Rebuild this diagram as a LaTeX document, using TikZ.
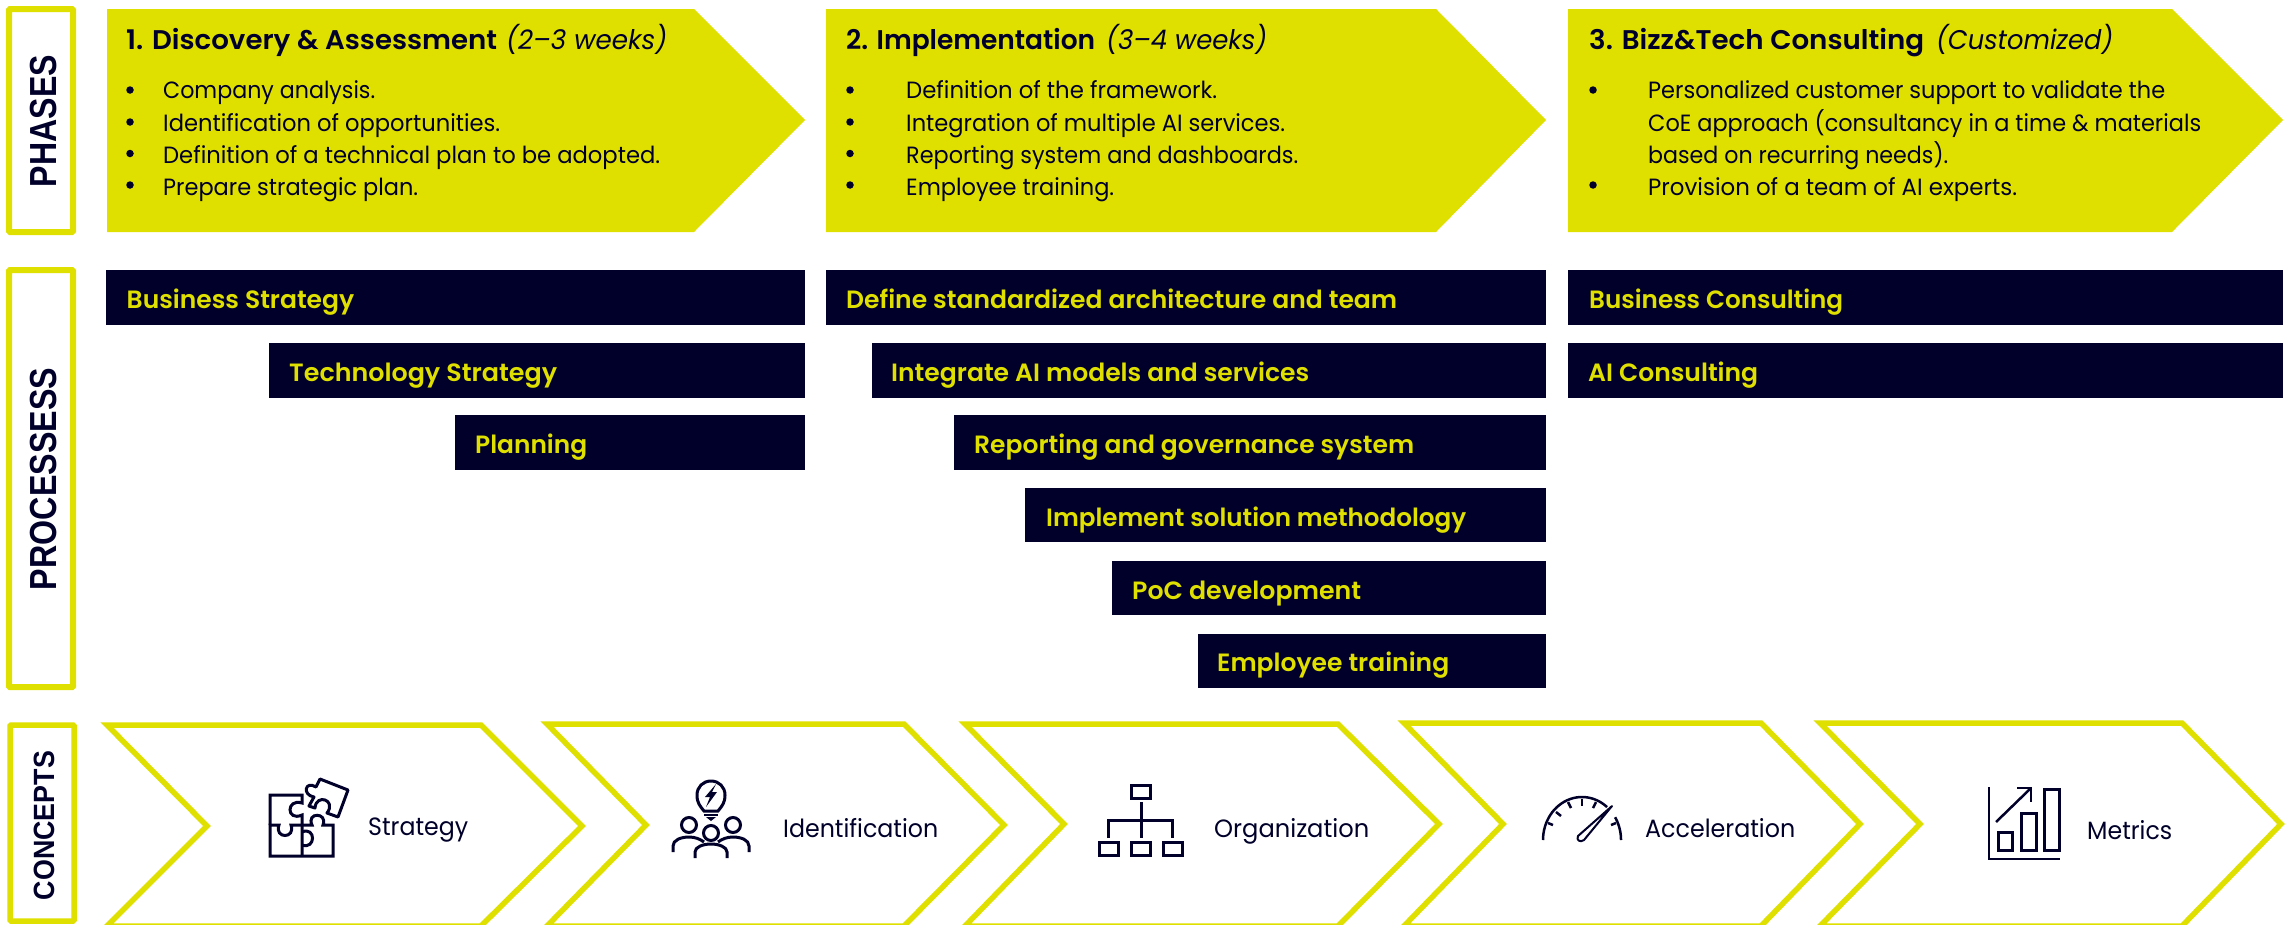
\documentclass[tikz,border=0pt]{standalone}
\usepackage{fontspec}
\usepackage{graphicx}
\setmainfont{Poppins}[BoldFont={Poppins SemiBold}]
\newfontfamily\labfont{Liberation Sans}
\definecolor{lime}{HTML}{DFDF00}
\definecolor{ink}{HTML}{00002A}
\newsavebox{\fitbox}
\newcommand{\fitw}[2]{\sbox{\fitbox}{#2}\pgfmathsetmacro{\fitr}{#1/\wd\fitbox*1pt}\scalebox{\fitr}[1]{\usebox{\fitbox}}}
\tikzset{
  x=1pt,y=-1pt,
  txt/.style={anchor=base west,inner sep=0pt,text=ink},
  phasetitle/.style={txt,font=\fontsize{27}{32}\selectfont\bfseries},
  phaseweeks/.style={txt,font=\fontsize{27}{32}\selectfont\itshape},
  bodytxt/.style={txt,font=\fontsize{23.5}{32}\selectfont},
  bullet/.style={circle,fill=ink,inner sep=0pt,minimum size=7.5pt},
  bartxt/.style={txt,text=lime,font=\fontsize{25}{30}\selectfont\bfseries},
  bar/.style={fill=ink},
  arrowfill/.style={fill=lime},
  chev/.style={draw=lime,line width=5.5pt,fill=white,miter limit=10},
  labbox/.style={draw=lime,line width=6pt,rounded corners=1pt,fill=white},
  labtxt/.style={inner sep=0pt,rotate=90,text=ink},
  conctxt/.style={txt,font=\fontsize{25}{30}\selectfont},
  icon/.style={draw=ink,line width=3pt,line join=miter},
}
\begin{document}
\begin{tikzpicture}
\clip (0,0) rectangle (2290,924);
% section labels
\draw[labbox] (9,9) rectangle (73,232);
\draw[labbox] (9,270) rectangle (73,687);
\draw[labbox,line width=5.5pt] (10,725) rectangle (74,921);
\node[labtxt] (lphases) at (44,121) {\labfont\bfseries\fontsize{37.7}{40}\selectfont\fitw{132}{PHASES}};
\node[labtxt] (lproc) at (44,479) {\labfont\bfseries\fontsize{37.7}{40}\selectfont\fitw{222}{PROCESSESS}};
\node[labtxt] (lconc) at (44,825.5) {\labfont\bfseries\fontsize{29.3}{32}\selectfont\fitw{149}{CONCEPTS}};
% phase arrows
\fill[arrowfill] (107,9) -- (694,9) -- (805,120) -- (694,232) -- (107,232) -- cycle;
\fill[arrowfill] (826,9) -- (1436,9) -- (1546,120) -- (1436,232) -- (826,232) -- cycle;
\fill[arrowfill] (1568,9) -- (2172,9) -- (2283,120) -- (2172,232) -- (1568,232) -- cycle;
\node[phasetitle] (t1) at (126,49) {\fitw{371}{1. Discovery \& Assessment}};
\node[phaseweeks] (w1) at (506,49) {\fitw{161}{(2–3 weeks)}};
\node[phasetitle] (t2) at (846,49) {\fitw{249}{2. Implementation}};
\node[phaseweeks] (w2) at (1106,49) {\fitw{161}{(3–4 weeks)}};
\node[phasetitle] (t3) at (1589,49) {\fitw{335}{3. Bizz\&Tech Consulting}};
\node[phaseweeks] (w3) at (1936,49) {\fitw{177}{(Customized)}};
% bullets col 1
\foreach \yy/\nm in {90/a,122/b,153.5/c,185/d} \node[bullet] (ba\nm) at (130,\yy) {};
\node[bodytxt] (p1a) at (163,98.7) {\fitw{212}{Company analysis.}};
\node[bodytxt] (p1b) at (163,131) {\fitw{337}{Identification of opportunities.}};
\node[bodytxt] (p1c) at (163,163) {\fitw{497}{Definition of a technical plan to be adopted.}};
\node[bodytxt] (p1d) at (163,195) {\fitw{255}{Prepare strategic plan.}};
% bullets col 2
\foreach \yy/\nm in {90/a,122/b,153.5/c,185/d} \node[bullet] (bb\nm) at (850,\yy) {};
\node[bodytxt] (p2a) at (906,98.7) {\fitw{311}{Definition of the framework.}};
\node[bodytxt] (p2b) at (906,131) {\fitw{379}{Integration of multiple AI services.}};
\node[bodytxt] (p2c) at (906,163) {\fitw{392}{Reporting system and dashboards.}};
\node[bodytxt] (p2d) at (906,195) {\fitw{208}{Employee training.}};
% bullets col 3
\foreach \yy/\nm in {90/a,185/d} \node[bullet] (bc\nm) at (1593,\yy) {};
\node[bodytxt] (p3a) at (1648,98.7) {\fitw{517}{Personalized customer support to validate the}};
\node[bodytxt] (p3b) at (1648,131) {\fitw{553}{CoE approach (consultancy in a time \& materials}};
\node[bodytxt] (p3c) at (1648,163) {\fitw{300}{based on recurring needs).}};
\node[bodytxt] (p3d) at (1648,195) {\fitw{369}{Provision of a team of AI experts.}};
% process bars
\fill[bar] (106,270) rectangle (805,325);
\fill[bar] (269,343) rectangle (805,398);
\fill[bar] (455,415) rectangle (805,470);
\fill[bar] (826,270) rectangle (1546,325);
\fill[bar] (872,343) rectangle (1546,398);
\fill[bar] (954,415) rectangle (1546,470);
\fill[bar] (1025,488) rectangle (1546,542);
\fill[bar] (1112,561) rectangle (1546,615);
\fill[bar] (1198,634) rectangle (1546,688);
\fill[bar] (1568,270) rectangle (2283,325);
\fill[bar] (1568,343) rectangle (2283,398);
\node[bartxt] (b1) at (126.5,308) {\fitw{227.5}{Business Strategy}};
\node[bartxt] (b2) at (289,381) {\fitw{268}{Technology Strategy}};
\node[bartxt] (b3) at (475,453) {\fitw{112}{Planning}};
\node[bartxt] (b4) at (846,308) {\fitw{551}{Define standardized architecture and team}};
\node[bartxt] (b5) at (891,381) {\fitw{418}{Integrate AI models and services}};
\node[bartxt] (b6) at (974,453) {\fitw{440}{Reporting and governance system}};
\node[bartxt] (b7) at (1046,526) {\fitw{420}{Implement solution methodology}};
\node[bartxt] (b8) at (1132,599) {\fitw{229}{PoC development}};
\node[bartxt] (b9) at (1217,671) {\fitw{232}{Employee training}};
\node[bartxt] (b10) at (1589,308) {\fitw{254}{Business Consulting}};
\node[bartxt] (b11) at (1588,381) {\fitw{170}{AI Consulting}};
% concept chevrons
\draw[chev] (107,725) -- (481,725) -- (582,826) -- (481,926) -- (107,926) -- (207,826) -- cycle;
\draw[chev] (547,724) -- (904,724) -- (1004,825) -- (904,926) -- (547,926) -- (646,825) -- cycle;
\draw[chev] (965,724) -- (1338,724) -- (1439,824) -- (1338,926) -- (965,926) -- (1064,824) -- cycle;
\draw[chev] (1404,723) -- (1761,723) -- (1860,824) -- (1761,926) -- (1404,926) -- (1503,824) -- cycle;
\draw[chev] (1820,723) -- (2182,723) -- (2281,824) -- (2182,926) -- (1820,926) -- (1920,824) -- cycle;
\node[conctxt] (c1) at (368,835) {\fitw{100}{Strategy}};
\node[conctxt] (c2) at (783,837) {\fitw{155}{Identification}};
\node[conctxt] (c3) at (1214,837) {\fitw{155}{Organization}};
\node[conctxt] (c4) at (1645,837) {\fitw{150}{Acceleration}};
\node[conctxt] (c5) at (2087,839) {\fitw{85}{Metrics}};
% puzzle icon
\draw[icon] (270,825) -- (270,795) -- (302,795) -- (302,803) .. controls (286,798) and (286,822) .. (302,815) -- (302,856);
\draw[icon] (270,825) -- (279,825) .. controls (274,839) and (296,839) .. (291,825) -- (312,825) .. controls (306,812) and (328,812) .. (323,825) -- (333,825) -- (333,856) -- (270,856) -- cycle;
\draw[icon] (302,832) .. controls (316,826) and (316,850) .. (302,845);
\draw[icon,line join=round] (320,779) -- (348,790) -- (338,817) -- (327,813) .. controls (337,800) and (316,793) .. (315,808) -- (309,806) -- (314,797) .. controls (302,795) and (305,780) .. (316,787) -- cycle;
% team idea icon
\draw[icon] (704,811) .. controls (700,806) and (697,803) .. (697,795) .. controls (697,787) and (703,781) .. (711,781) .. controls (719,781) and (725,787) .. (725,795) .. controls (725,803) and (722,806) .. (718,811) -- cycle;
\fill[ink] (716,784) -- (705,797) -- (710,797) -- (706,807) -- (717,792) -- (712,792) -- cycle;
\draw[icon,line width=2pt] (704,814.5) -- (718,814.5);
\fill[ink] (706,817) -- (716,817) -- (711,821) -- cycle;
\draw[icon] (689,825) circle[radius=7.5];
\draw[icon] (733,825) circle[radius=7.5];
\draw[icon] (711,833) circle[radius=7.5];
\draw[icon] (673,852) -- (673,846) .. controls (673,840) and (681,837) .. (689,837) .. controls (695,837) and (700,839) .. (704,842);
\draw[icon] (749,852) -- (749,846) .. controls (749,840) and (741,837) .. (733,837) .. controls (727,837) and (722,839) .. (718,842);
\draw[icon] (695,858) -- (695,852) .. controls (695,847) and (703,844) .. (711,844) .. controls (719,844) and (727,847) .. (727,852) -- (727,858);
% org chart icon
\draw[icon] (1131.5,785.5) rectangle (1150.5,798);
\draw[icon] (1099.5,842.5) rectangle (1118.5,855.5);
\draw[icon] (1131.5,842.5) rectangle (1150.5,855.5);
\draw[icon] (1163,842.5) rectangle (1182,855.5);
\draw[icon] (1141,802) -- (1141,838);
\draw[icon] (1108.5,838) -- (1108.5,820) -- (1172,820) -- (1172,838);
% gauge icon
\draw[icon,line width=2.5pt] plot[domain=180:50,samples=30] ({1582+39*cos(\x)},{840-43*sin(\x)});
\draw[icon,line width=2.5pt] plot[domain=32:0,samples=12] ({1582+39*cos(\x)},{840-43*sin(\x)});
\draw[icon,line width=2.5pt] (1548,823) -- (1553,825);
\draw[icon,line width=2.5pt] (1556,812) -- (1561,816);
\draw[icon,line width=2.5pt] (1568,802) -- (1571,808);
\draw[icon,line width=2.5pt] (1582,799) -- (1582,806);
\draw[icon,line width=2.5pt] (1596,802) -- (1593,808);
\draw[icon,line width=2.5pt] (1616,823) -- (1611,825);
\draw[icon,line width=2pt,line join=round,fill=white] (1612,806) -- (1584,840) .. controls (1580,843) and (1576,840) .. (1578,836) -- cycle;
% chart icon
\draw[icon,line width=2.5pt] (1989,787) -- (1989,859) -- (2060,859);
\draw[icon] (1998,832) rectangle (2012,850);
\draw[icon] (2021,813) rectangle (2036,850);
\draw[icon] (2044,789) rectangle (2059,850);
\draw[icon,line width=2.5pt] (1996,822) -- (2031,788);
\draw[icon,line width=2.5pt] (2017,788) -- (2031,788) -- (2031,802);
\end{tikzpicture}
\end{document}
